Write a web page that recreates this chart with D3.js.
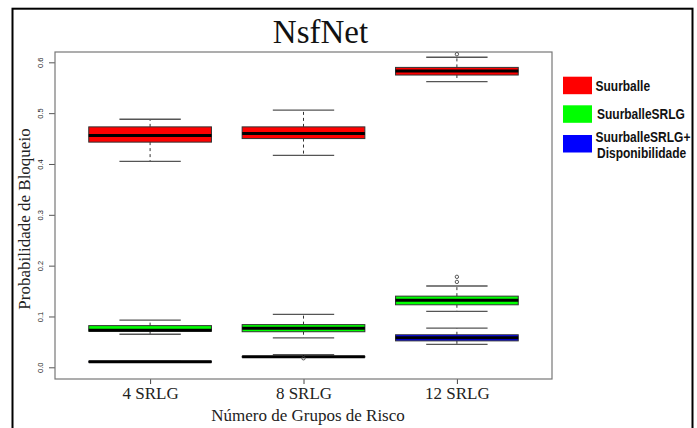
<!DOCTYPE html>
<html>
<head>
<meta charset="utf-8">
<script src="https://cdn.jsdelivr.net/npm/d3@7"></script>
<style>
  html, body { margin: 0; padding: 0; background: #fff; }
  svg { display: block; }
</style>
</head>
<body>
<script>
// ---- Data ----
const categories = ["4 SRLG", "8 SRLG", "12 SRLG"];
const seriesNames = ["Suurballe", "SuurballeSRLG", "SuurballeSRLG+ Disponibilidade"];
const seriesColors = ["#ff0000", "#00ff00", "#0000ff"];
const yTicks = [0.0, 0.1, 0.2, 0.3, 0.4, 0.5, 0.6];

// Suurballe
const suurLow = [0.405, 0.417, 0.562];
const suurQ1 = [0.443, 0.450, 0.575];
const suurMed = [0.456, 0.460, 0.583];
const suurQ3 = [0.473, 0.473, 0.590];
const suurHigh = [0.488, 0.506, 0.610];
const suurOut = [[], [], [0.616]];

// SuurballeSRLG
const srlgLow = [0.065, 0.058, 0.110];
const srlgQ1 = [0.071, 0.070, 0.123];
const srlgMed = [0.073, 0.077, 0.132];
const srlgQ3 = [0.082, 0.084, 0.140];
const srlgHigh = [0.093, 0.104, 0.160];
const srlgOut = [[], [], [0.168, 0.178]];

// SuurballeSRLG+Disponibilidade
const dispLow = [0.0105, 0.0195, 0.045];
const dispQ1 = [0.0100, 0.0200, 0.052];
const dispMed = [0.0110, 0.0210, 0.058];
const dispQ3 = [0.0120, 0.0215, 0.064];
const dispHigh = [0.0115, 0.0250, 0.077];
const dispOut = [[], [0.0178], []];

const series = [
  {low: suurLow, q1: suurQ1, med: suurMed, q3: suurQ3, high: suurHigh, out: suurOut},
  {low: srlgLow, q1: srlgQ1, med: srlgMed, q3: srlgQ3, high: srlgHigh, out: srlgOut},
  {low: dispLow, q1: dispQ1, med: dispMed, q3: dispQ3, high: dispHigh, out: dispOut}
];

// ---- Layout ----
const W = 697, H = 428;
const plot = {left: 55, right: 552, top: 52, bottom: 379};

const svg = d3.select("body").append("svg")
  .attr("width", W).attr("height", H);

svg.append("rect").attr("width", W).attr("height", H).attr("fill", "#fff");

// outer frame
svg.append("rect")
  .attr("x", 12.5).attr("y", 8.7)
  .attr("width", 680).attr("height", 440)
  .attr("fill", "none").attr("stroke", "#000").attr("stroke-width", 2);

const x = d3.scaleLinear().domain([0.38, 3.62]).range([plot.left, plot.right]);
const y = d3.scaleLinear().domain([-0.0230, 0.6203]).range([plot.bottom, plot.top]);

const boxW = x(1.4) - x(1.0);   // half box width (0.8 total)
const capW = boxW / 2;

// Title
svg.append("text")
  .attr("x", 320.5).attr("y", 42.5)
  .attr("text-anchor", "middle")
  .attr("font-family", "'Liberation Serif', 'Times New Roman', serif")
  .attr("font-size", 33)
  .attr("fill", "#111")
  .text("NsfNet");

// Y axis
const yAxis = d3.axisLeft(y).tickValues(yTicks).tickSize(6).tickFormat(d3.format(".1f"));
const gy = svg.append("g").attr("transform", `translate(${plot.left},0)`).call(yAxis);
gy.select(".domain").remove();
gy.selectAll(".tick line").attr("stroke", "#555");
gy.selectAll(".tick text")
  .attr("x", null).attr("dy", null)
  .attr("transform", "translate(-12.5,0) rotate(-90)")
  .attr("text-anchor", "middle")
  .attr("font-family", "'Liberation Sans', Arial, sans-serif")
  .attr("font-size", 7.5)
  .attr("fill", "#222");

// X axis
const xAxis = d3.axisBottom(x).tickValues([1, 2, 3]).tickSize(5).tickPadding(3)
  .tickFormat((d, i) => categories[i]);
const gx = svg.append("g").attr("transform", `translate(0,${plot.bottom})`).call(xAxis);
gx.select(".domain").remove();
gx.selectAll(".tick line").attr("stroke", "#444");
gx.selectAll(".tick text")
  .attr("font-family", "'Liberation Serif', 'Times New Roman', serif")
  .attr("font-size", 17)
  .attr("fill", "#222");

// Plot frame
svg.append("rect")
  .attr("x", plot.left).attr("y", plot.top)
  .attr("width", plot.right - plot.left).attr("height", plot.bottom - plot.top)
  .attr("fill", "none").attr("stroke", "#777").attr("stroke-width", 1.2);

// Axis titles
svg.append("text")
  .attr("x", 308).attr("y", 420.5)
  .attr("text-anchor", "middle")
  .attr("font-family", "'Liberation Serif', 'Times New Roman', serif")
  .attr("font-size", 17)
  .attr("fill", "#222")
  .text("Número de Grupos de Risco");

svg.append("text")
  .attr("transform", "translate(30,219) rotate(-90)")
  .attr("text-anchor", "middle")
  .attr("font-family", "'Liberation Serif', 'Times New Roman', serif")
  .attr("font-size", 17)
  .attr("fill", "#222")
  .text("Probabilidade de Bloqueio");

// Boxplots
series.forEach((s, si) => {
  const g = svg.append("g");
  categories.forEach((c, i) => {
    const cx = x(i + 1);
    // whiskers (dashed)
    g.append("line")
      .attr("x1", cx).attr("x2", cx)
      .attr("y1", y(s.q3[i])).attr("y2", y(s.high[i]))
      .attr("stroke", "#333").attr("stroke-width", 1).attr("stroke-dasharray", "3,3");
    g.append("line")
      .attr("x1", cx).attr("x2", cx)
      .attr("y1", y(s.q1[i])).attr("y2", y(s.low[i]))
      .attr("stroke", "#333").attr("stroke-width", 1).attr("stroke-dasharray", "3,3");
    // caps
    [s.high[i], s.low[i]].forEach(v => {
      g.append("line")
        .attr("x1", cx - capW).attr("x2", cx + capW)
        .attr("y1", y(v)).attr("y2", y(v))
        .attr("stroke", "#555").attr("stroke-width", 1.3);
    });
    // box
    const top = y(Math.max(s.q3[i], s.q1[i]));
    const bot = y(Math.min(s.q3[i], s.q1[i]));
    g.append("rect")
      .attr("x", cx - boxW).attr("y", top)
      .attr("width", 2 * boxW).attr("height", Math.max(bot - top, 0.5))
      .attr("fill", seriesColors[si])
      .attr("stroke", "#333").attr("stroke-width", 1);
    // median
    g.append("line")
      .attr("x1", cx - boxW).attr("x2", cx + boxW)
      .attr("y1", y(s.med[i])).attr("y2", y(s.med[i]))
      .attr("stroke", "#000").attr("stroke-width", 3);
    // outliers
    s.out[i].forEach(v => {
      g.append("circle")
        .attr("cx", cx).attr("cy", y(v)).attr("r", 1.7)
        .attr("fill", "none").attr("stroke", "#444").attr("stroke-width", 0.9);
    });
  });
});

// Legend
const legendY = [76.7, 105.3, 135];
const legendLabels = [["Suurballe"], ["SuurballeSRLG"], ["SuurballeSRLG+", "Disponibilidade"]];
const legendTextY = [[90.8], [118.5], [141.9, 157.5]];
const legendTextX = [[595.5], [597], [595.5, 597]];
const leg = svg.append("g");
seriesNames.forEach((name, i) => {
  leg.append("rect")
    .attr("x", 563).attr("y", legendY[i])
    .attr("width", 29).attr("height", 17.5)
    .attr("fill", seriesColors[i]);
  legendLabels[i].forEach((line, j) => {
    leg.append("text")
      .attr("transform", `translate(${legendTextX[i][j]},${legendTextY[i][j]}) scale(1,1.18)`)
      .attr("font-family", "'Liberation Sans', Arial, sans-serif")
      .attr("font-weight", "bold")
      .attr("font-size", 12)
      .attr("fill", "#111")
      .text(line);
  });
});
</script>
</body>
</html>
